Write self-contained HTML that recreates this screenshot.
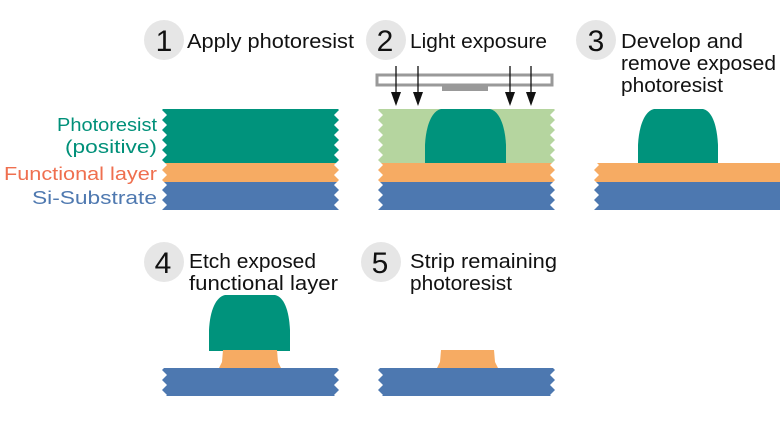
<!DOCTYPE html>
<html><head><meta charset="utf-8"><style>
html,body{margin:0;padding:0;background:#fff;}
svg{display:block}
text{font-family:"Liberation Sans",sans-serif;}
</style></head><body>
<svg width="780" height="422" viewBox="0 0 780 422" xmlns="http://www.w3.org/2000/svg">
<defs>
<pattern id="zz" x="0" y="0" width="6" height="10" patternUnits="userSpaceOnUse">
<polygon points="0,0 5,5 0,10" fill="#fff"/>
</pattern>
<pattern id="zzr" x="3" y="0" width="6" height="10" patternUnits="userSpaceOnUse">
<polygon points="6,0 1,5 6,10" fill="#fff"/>
</pattern>
</defs>
<rect width="780" height="422" fill="#fff"/>

<g fill="#e6e6e6">
<circle cx="164" cy="40" r="20"/><circle cx="386" cy="40" r="20"/><circle cx="596" cy="40" r="20"/>
<circle cx="164" cy="262" r="20"/><circle cx="381" cy="262" r="20"/>
</g>
<g font-size="30" fill="#111" text-anchor="middle">
<text x="164" y="51">1</text><text x="385" y="51">2</text><text x="596" y="51">3</text>
<text x="163" y="273">4</text><text x="380" y="273">5</text>
</g>
<g font-size="20" fill="#111">
<text x="187" y="48" textLength="167" lengthAdjust="spacingAndGlyphs">Apply photoresist</text>
<text x="410" y="48" textLength="137" lengthAdjust="spacingAndGlyphs">Light exposure</text>
<text x="621" y="48" textLength="122" lengthAdjust="spacingAndGlyphs">Develop and</text>
<text x="621" y="70" textLength="155" lengthAdjust="spacingAndGlyphs">remove exposed</text>
<text x="621" y="92" textLength="102" lengthAdjust="spacingAndGlyphs">photoresist</text>
<text x="189" y="268" textLength="127" lengthAdjust="spacingAndGlyphs">Etch exposed</text>
<text x="189" y="290" textLength="149" lengthAdjust="spacingAndGlyphs">functional layer</text>
<text x="410" y="268" textLength="147" lengthAdjust="spacingAndGlyphs">Strip remaining</text>
<text x="410" y="290" textLength="102" lengthAdjust="spacingAndGlyphs">photoresist</text>
</g>
<g font-size="18" text-anchor="end">
<text x="157" y="131" fill="#009079" textLength="100" lengthAdjust="spacingAndGlyphs">Photoresist</text>
<text x="157" y="153" fill="#009079" textLength="92" lengthAdjust="spacingAndGlyphs">(positive)</text>
<text x="157" y="180" fill="#ef6f4f" textLength="153" lengthAdjust="spacingAndGlyphs">Functional layer</text>
<text x="157" y="204" fill="#4f79b0" textLength="125" lengthAdjust="spacingAndGlyphs">Si-Substrate</text>
</g>

<rect x="162" y="109" width="177" height="54" fill="#00937c"/>
<rect x="162" y="163" width="177" height="19" fill="#f6ab63"/>
<rect x="162" y="182" width="177" height="28" fill="#4d78b0"/>

<rect x="378" y="109" width="177" height="54" fill="#b5d59f"/>
<path d="M425,163 L425,145 C426,125 432,111 441,109 L490,109 C499,111 505,125 506,145 L506,163 Z" fill="#00937c"/>
<rect x="378" y="163" width="177" height="19" fill="#f6ab63"/>
<rect x="378" y="182" width="177" height="28" fill="#4d78b0"/>
<rect x="377" y="75" width="175" height="10" fill="none" stroke="#999" stroke-width="3"/>
<rect x="442" y="86" width="46" height="5" fill="#999"/>
<g stroke="#111" stroke-width="1.3">
<line x1="396" y1="66" x2="396" y2="100"/><line x1="418" y1="66" x2="418" y2="100"/>
<line x1="510" y1="66" x2="510" y2="100"/><line x1="531" y1="66" x2="531" y2="100"/>
</g>
<g fill="#111">
<polygon points="391,92 401,92 396,106"/><polygon points="413,92 423,92 418,106"/>
<polygon points="505,92 515,92 510,106"/><polygon points="526,92 536,92 531,106"/>
</g>

<path d="M638,163 L638,145 C639,125 645,111 654,109 L703,109 C712,111 717,125 718,145 L718,163 Z" fill="#00937c"/>
<rect x="594" y="163" width="186" height="19" fill="#f6ab63"/>
<rect x="594" y="182" width="186" height="28" fill="#4d78b0"/>

<path d="M209,351 L209,330 C210,310 216,297 225,295 L275,295 C284,297 289,310 290,330 L290,351 Z" fill="#00937c"/>
<path d="M223,350 L277,350 L278,362 L281,368 L219,368 L222,362 Z" fill="#f6ab63"/>
<rect x="162" y="368" width="177" height="28" fill="#4d78b0"/>

<path d="M441,350 L494,350 L495,362 L498,368 L437,368 L440,362 Z" fill="#f6ab63"/>
<rect x="378" y="368" width="177" height="28" fill="#4d78b0"/>

<rect x="162" y="109" width="6" height="101" fill="url(#zz)"/>
<rect x="333" y="109" width="6" height="101" fill="url(#zzr)"/>
<rect x="378" y="109" width="6" height="101" fill="url(#zz)"/>
<rect x="549" y="109" width="6" height="101" fill="url(#zzr)"/>
<rect x="594" y="163" width="6" height="47" fill="url(#zz)"/>
<rect x="162" y="368" width="6" height="28" fill="url(#zz)"/>
<rect x="333" y="368" width="6" height="28" fill="url(#zzr)"/>
<rect x="378" y="368" width="6" height="28" fill="url(#zz)"/>
<rect x="549" y="368" width="6" height="28" fill="url(#zzr)"/>
</svg>
</body></html>
